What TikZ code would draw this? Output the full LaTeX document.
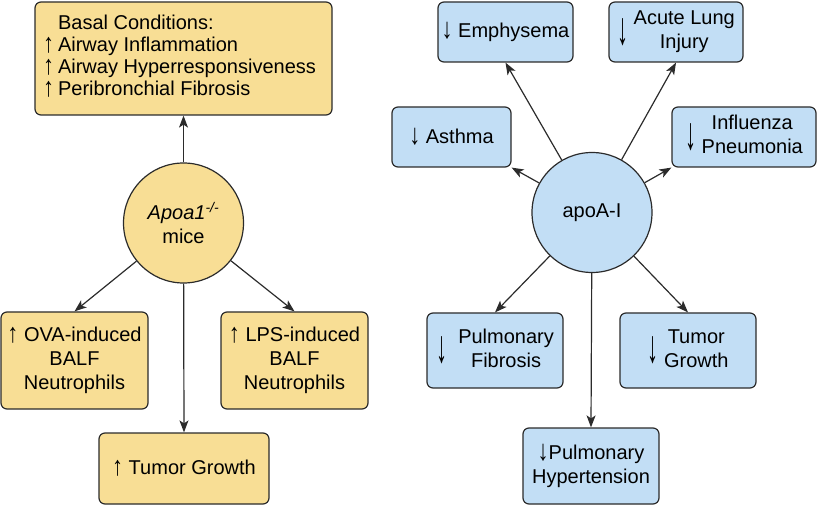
\documentclass[tikz,border=0pt]{standalone}
\usepackage{fontspec}
\setmainfont{Liberation Sans}
\usepackage{graphicx,xcolor}
\usetikzlibrary{arrows.meta,positioning}

\definecolor{boxyellow}{HTML}{F8DE95}
\definecolor{boxblue}{HTML}{C2DEF5}
\definecolor{edgegray}{HTML}{2B2B2B}

\newcommand{\upar}{\raisebox{-1pt}{\scalebox{1.1}[1.35]{↑}}}
\newcommand{\dnar}{\raisebox{-1pt}{\scalebox{1.1}[1.45]{↓}}}
\newcommand{\dnlong}{$\vcenter{\hbox{\scalebox{1.1}[2.3]{↓}}}$}

\begin{document}
\begin{tikzpicture}[x = 1pt, y = -1pt]
	\tikzstyle{every node} = [draw = edgegray, line width = 1.2pt, inner sep = 0pt, align = center, font = \fontsize{20}{24}\selectfont]
	\tikzstyle{ybox} = [rectangle, rounded corners = 6pt, fill = boxyellow]
	\tikzstyle{bbox} = [rectangle, rounded corners = 6pt, fill = boxblue]
	\tikzstyle{link} = [draw = edgegray, line width = 1.2pt, -{Stealth[length = 12pt, width = 9pt, inset = 3pt]}]
	\useasboundingbox (0, 0) rectangle (820, 505);

% left: Apoa1 knockout mice
\node[ybox, minimum width = 297pt, minimum height = 113pt, font = \fontsize{20}{22}\selectfont] (0) at (183.5, 58.5)
	{\begin{tabular}{@{}l@{\hspace{4pt}}l@{}}
	 & Basal Conditions:\\
	\upar & Airway Inflammation\\
	\upar & Airway Hyperresponsiveness\\
	\upar & Peribronchial Fibrosis
	\end{tabular}\hspace{8pt}};
\node[ybox, circle, minimum size = 120pt] (1) at (183.5, 223) {\textit{Apoa1}\textsuperscript{\textit{-/-}}\\mice};
\node[ybox, minimum width = 147pt, minimum height = 97pt] (2) at (74.5, 360.5) {\upar\ OVA-induced\\BALF\\Neutrophils};
\node[ybox, minimum width = 147pt, minimum height = 97pt] (3) at (294.5, 360.5) {\upar\ LPS-induced\\BALF\\Neutrophils};
\node[ybox, minimum width = 170pt, minimum height = 71pt] (4) at (184, 468.5) {\upar\ Tumor Growth};

% right: apoA-I
\node[bbox, circle, minimum size = 120pt] (5) at (592, 212.5) {apoA-I};
\node[bbox, minimum width = 135pt, minimum height = 60pt] (6) at (505.5, 32) {\dnar\ Emphysema};
\node[bbox, minimum width = 134pt, minimum height = 60pt] (7) at (676, 32) {\dnlong\ \begin{tabular}{@{}c@{}}Acute Lung\\Injury\end{tabular}};
\node[bbox, minimum width = 119pt, minimum height = 60pt] (8) at (451.5, 137) {\dnar\ Asthma};
\node[bbox, minimum width = 144pt, minimum height = 60pt] (9) at (744, 137) {\dnlong\ \begin{tabular}{@{}c@{}}Influenza\\Pneumonia\end{tabular}};
\node[bbox, minimum width = 136pt, minimum height = 75pt] (10) at (495, 350.5) {\dnlong\ \ \begin{tabular}{@{}c@{}}Pulmonary\\Fibrosis\end{tabular}};
\node[bbox, minimum width = 136pt, minimum height = 75pt] (11) at (688, 350.5) {\dnlong\ \begin{tabular}{@{}c@{}}Tumor\\Growth\end{tabular}};
\node[bbox, minimum width = 136pt, minimum height = 76pt] (12) at (591, 466) {\dnar Pulmonary\\Hypertension};

	\path[link] (1) -- (0.south);
	\path[link] (1) -- (2.north);
	\path[link] (1) -- (3.north);
	\path[link] (1) -- (4.north);
	\path[link] (5) -- (6.south);
	\path[link] (5) -- (7.south);
	\path[link] (5) -- (8.south east);
	\path[link] (5) -- (9.south west);
	\path[link] (5) -- (10.north);
	\path[link] (5) -- (11.north);
	\path[link] (5) -- (12.north);
\end{tikzpicture}
\end{document}
